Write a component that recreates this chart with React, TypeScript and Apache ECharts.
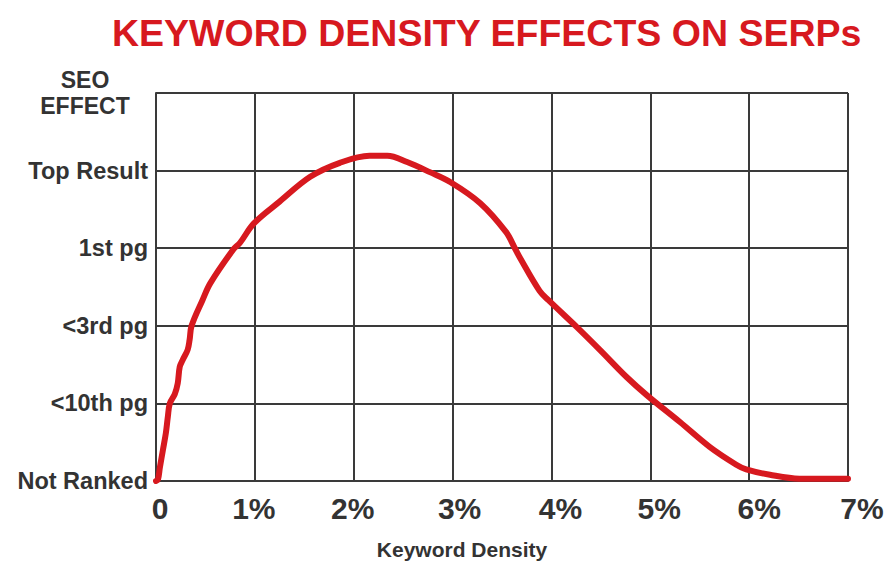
import React, { useEffect, useRef } from "react";
import * as echarts from "echarts";

const titleText = "KEYWORD DENSITY EFFECTS ON SERPs";
const xTickLabels = ["0", "1%", "2%", "3%", "4%", "5%", "6%", "7%"];
const yTickLabels = ["Not Ranked", "<10th pg", "<3rd pg", "1st pg", "Top Result", ""];
const yAxisTitle = "SEO\nEFFECT";
const xAxisTitle = "Keyword Density";

// keyword density (%) and SEO effect level (0 = Not Ranked ... 4 = Top Result)
const density = [
  0, 0.02, 0.04, 0.07, 0.1, 0.12, 0.14, 0.19, 0.22, 0.24, 0.27, 0.32, 0.34, 0.36, 0.47, 0.55,
  0.78, 0.85, 0.99, 1.25, 1.56, 1.86, 2.16, 2.34, 2.54, 2.77, 2.98, 3.28, 3.54, 3.63, 3.68,
  3.88, 3.97, 4.26, 4.49, 4.76, 4.97, 5.3, 5.6, 5.87, 5.97, 6.21, 6.51, 7,
];
const effect = [
  0, 0.02, 0.18, 0.4, 0.62, 0.83, 1.0, 1.12, 1.26, 1.47, 1.56, 1.69, 1.82, 2.0, 2.33, 2.55,
  2.98, 3.07, 3.32, 3.6, 3.92, 4.1, 4.19, 4.19, 4.11, 3.98, 3.85, 3.58, 3.21, 3.0, 2.88,
  2.45, 2.33, 1.98, 1.69, 1.34, 1.1, 0.76, 0.44, 0.21, 0.15, 0.08, 0.03, 0.03,
];

// horizontal nudges of the x tick labels (px)
const xLabelShift = [4, -1, -1, 7, 9, 9, 10, 14];

export default function App() {
  const ref = useRef<HTMLDivElement>(null);
  useEffect(() => {
    if (!ref.current) return;
    const chart = echarts.init(ref.current, null, { renderer: "svg" });
    const font = "'Liberation Sans', Arial, sans-serif";
    const rich: Record<string, any> = {};
    xTickLabels.forEach((_, i) => {
      const s = xLabelShift[i];
      rich["l" + i] = {
        fontFamily: font,
        fontSize: 30,
        fontWeight: "bold",
        color: "#333",
        padding: s >= 0 ? [0, 0, 0, 2 * s] : [0, -2 * s, 0, 0],
      };
    });
    chart.setOption({
      animation: false,
      backgroundColor: "#ffffff",
      title: {
        text: titleText,
        left: 107,
        top: 9,
        textStyle: {
          fontFamily: font,
          fontSize: 37.5,
          fontWeight: "bold",
          color: "#d7191f",
        },
      },
      grid: { left: 156, right: 45, top: 93, bottom: 82, containLabel: false },
      xAxis: {
        type: "value",
        min: 0,
        max: 7,
        interval: 1,
        axisLine: { show: true, lineStyle: { color: "#3a3a3a", width: 2 } },
        axisTick: { show: false },
        splitLine: { show: true, lineStyle: { color: "#3a3a3a", width: 2 } },
        axisLabel: {
          margin: 12,
          formatter: (v: number) => {
            const i = Math.round(v);
            return `{l${i}|${xTickLabels[i]}}`;
          },
          rich,
        },
      },
      yAxis: {
        type: "value",
        min: 0,
        max: 5,
        interval: 1,
        axisLine: { show: true, lineStyle: { color: "#3a3a3a", width: 2 } },
        axisTick: { show: false },
        splitLine: { show: true, lineStyle: { color: "#3a3a3a", width: 2 } },
        axisLabel: {
          margin: 8,
          fontFamily: font,
          fontSize: 23.5,
          fontWeight: "bold",
          color: "#333",
          formatter: (v: number) => yTickLabels[Math.round(v)] ?? "",
        },
      },
      graphic: [
        {
          type: "text",
          x: 85,
          y: 93,
          style: {
            text: yAxisTitle,
            fill: "#333",
            font: `bold 23px ${font}`,
            textAlign: "center",
            textVerticalAlign: "middle",
            lineHeight: 26,
          },
        },
        {
          type: "text",
          x: 462,
          y: 549,
          style: {
            text: xAxisTitle,
            fill: "#333",
            font: `bold 21px ${font}`,
            textAlign: "center",
            textVerticalAlign: "middle",
          },
        },
      ],
      series: [
        {
          type: "line",
          data: density.map((d, i) => [d, effect[i]]),
          smooth: 0.35,
          showSymbol: false,
          symbol: "none",
          lineStyle: { color: "#d7191f", width: 6, cap: "round", join: "round" },
          clip: false,
        },
      ],
    });
    return () => chart.dispose();
  }, []);
  return (
    <div
      ref={ref}
      style={{ position: "fixed", left: 0, top: 0, width: 893, height: 563 }}
    />
  );
}
